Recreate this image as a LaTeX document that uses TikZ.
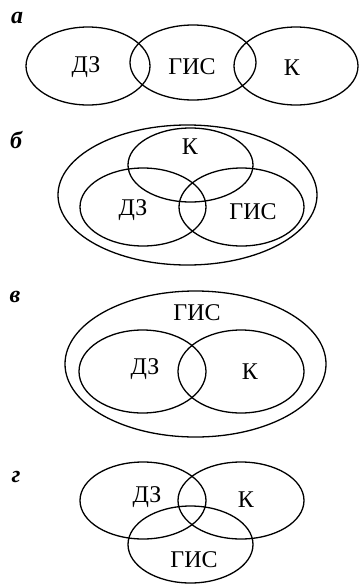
\documentclass[tikz,border=0pt]{standalone}
\usepackage{fontspec}
\setmainfont{Liberation Serif}
\begin{document}
\begin{tikzpicture}[x=1pt,y=-1pt,
  ell/.style={draw=black,line width=1.3pt},
  lbl/.style={font=\fontsize{24}{28}\selectfont,inner sep=0pt},
  panel/.style={font=\fontsize{24}{28}\selectfont\bfseries\itshape,inner sep=0pt}]
\useasboundingbox (0,0) rectangle (360,584);
% panel a
\node[panel] (pa) at (17,17.5) {а};
\draw[ell] (88,66) ellipse (62pt and 39pt);
\draw[ell] (193,62.5) ellipse (63pt and 37.5pt);
\draw[ell] (296,66) ellipse (62pt and 39pt);
\node[lbl] (a1) at (86,67) {ДЗ};
\node[lbl] (a2) at (192,67) {ГИС};
\node[lbl] (a3) at (292,68) {К};
% panel b
\node[panel] (pb) at (16,140) {б};
\draw[ell] (187.5,195) ellipse (129.5pt and 70pt);
\draw[ell] (190.5,165) ellipse (62.5pt and 37pt);
\draw[ell] (143,207) ellipse (63pt and 39pt);
\draw[ell] (241.5,207) ellipse (62.5pt and 39pt);
\node[lbl] (b1) at (190,147) {К};
\node[lbl] (b2) at (133,210) {ДЗ};
\node[lbl] (b3) at (253,212) {ГИС};
% panel c
\node[panel] (pc) at (15,297) {в};
\draw[ell] (195.5,364) ellipse (130.5pt and 73pt);
\draw[ell] (142.5,371.5) ellipse (63.5pt and 41.5pt);
\draw[ell] (241,371.5) ellipse (63pt and 41.5pt);
\node[lbl] (c1) at (197,313) {ГИС};
\node[lbl] (c2) at (145,369) {ДЗ};
\node[lbl] (c3) at (250,372) {К};
% panel d
\node[panel] (pd) at (16,477) {г};
\draw[ell] (143,500.5) ellipse (63pt and 38.5pt);
\draw[ell] (241,500.5) ellipse (63pt and 38.5pt);
\draw[ell] (190.5,544.5) ellipse (62.5pt and 38.5pt);
\node[lbl] (d1) at (147,497) {ДЗ};
\node[lbl] (d2) at (246,500) {К};
\node[lbl] (d3) at (194,560) {ГИС};
\end{tikzpicture}
\end{document}
